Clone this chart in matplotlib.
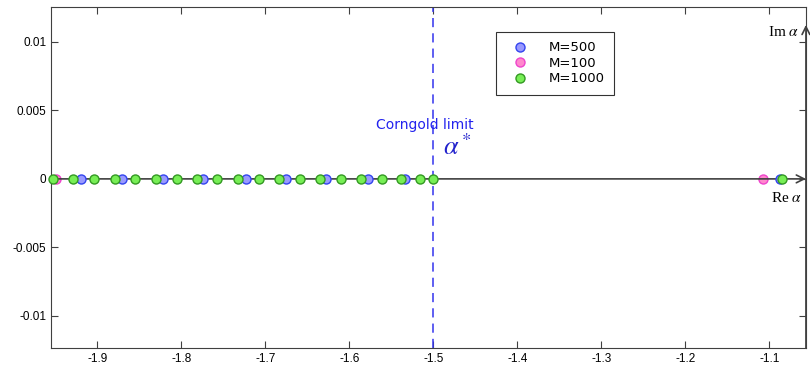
import numpy as np
import matplotlib.pyplot as plt

plt.rcParams['font.family'] = ['Liberation Sans', 'DejaVu Sans']
plt.rcParams['axes.unicode_minus'] = False
plt.rcParams['mathtext.fontset'] = 'stix'

re_m500 = [-1.9199, -1.8705, -1.8219, -1.7737, -1.7230, -1.6756, -1.6273,
           -1.5779, -1.5336, -1.0872]
re_m100 = [-1.9496, -1.1074]
re_m1000 = [-1.9523, -1.9286, -1.9042, -1.8792, -1.8547, -1.8297, -1.8052,
            -1.7815, -1.7571, -1.7321, -1.7076, -1.6835, -1.6590, -1.6349,
            -1.6103, -1.5858, -1.5613, -1.5383, -1.5158, -1.5000, -1.0851]
corngold = -1.5

xticks = [-1.9, -1.8, -1.7, -1.6, -1.5, -1.4, -1.3, -1.2, -1.1]
yticks = [-0.01, -0.005, 0, 0.005, 0.01]
ytick_labels = ['-0.01', '-0.005', '0', '0.005', '0.01']

fig = plt.figure(figsize=(8.1, 3.71), dpi=100)
ax = fig.add_axes([0.063, 0.062, 0.932, 0.919])
xmin, xmax = -1.955, -1.0565
ymin, ymax = -0.01235, 0.01255

# real and imaginary axes with arrows
ax.annotate('', xy=(xmax, 0), xytext=(xmin, 0),
            arrowprops=dict(arrowstyle='->', color='#404040', lw=1.2,
                            mutation_scale=14, shrinkA=0, shrinkB=0))
ax.annotate('', xy=(xmax, 0.01125), xytext=(xmax, ymin),
            arrowprops=dict(arrowstyle='->', color='#404040', lw=1.2,
                            mutation_scale=14, shrinkA=0, shrinkB=0),
            annotation_clip=False)
ax.text(xmax - 0.004, -0.0009, r'Re $\alpha$', ha='right', va='top',
        fontsize=11, family='Liberation Serif')
ax.text(xmax - 0.008, 0.0107, r'Im $\alpha$', ha='right', va='center',
        fontsize=11, family='Liberation Serif')

ax.axvline(corngold, color='#3333ee', ls=(0, (6, 4)), lw=1.1)
ax.text(corngold - 0.01, 0.0039, 'Corngold limit', color='#2222ee',
        ha='center', va='center', fontsize=10, family='DejaVu Sans')
ax.text(corngold + 0.012, 0.0023, r'$\alpha^*$', color='#2222cc',
        ha='left', va='center', fontsize=19)

ax.plot(re_m500, np.zeros(len(re_m500)), 'o', ms=6.5, mfc='#9999ff',
        mec='#3344ee', mew=1.0, label='M=500', clip_on=False, zorder=3)
ax.plot(re_m100, np.zeros(len(re_m100)), 'o', ms=6.5, mfc='#ff88cc',
        mec='#ee44cc', mew=1.0, label='M=100', clip_on=False, zorder=2)
ax.plot(re_m1000, np.zeros(len(re_m1000)), 'o', ms=6.5, mfc='#77ee55',
        mec='#339922', mew=1.0, label='M=1000', clip_on=False, zorder=4)

ax.set_xlim(xmin, xmax)
ax.set_ylim(ymin, ymax)
ax.set_xticks(xticks)
ax.set_xticklabels([str(t) for t in xticks])
ax.set_yticks(yticks)
ax.set_yticklabels(ytick_labels)
ax.tick_params(direction='in', top=True, right=True, labelsize=8.5,
               length=5, color='#404040')
for s in ax.spines.values():
    s.set_color('#404040')

leg = ax.legend(loc='upper left', bbox_to_anchor=(0.589, 0.927),
                prop={'family': 'DejaVu Sans', 'size': 9.5}, frameon=True,
                fancybox=False, borderpad=0.7, handlelength=2.3,
                handletextpad=1.0, labelspacing=0.2, borderaxespad=0)
leg.get_frame().set_edgecolor('black')
leg.get_frame().set_linewidth(0.8)

fig.savefig('out.png', dpi=100)
